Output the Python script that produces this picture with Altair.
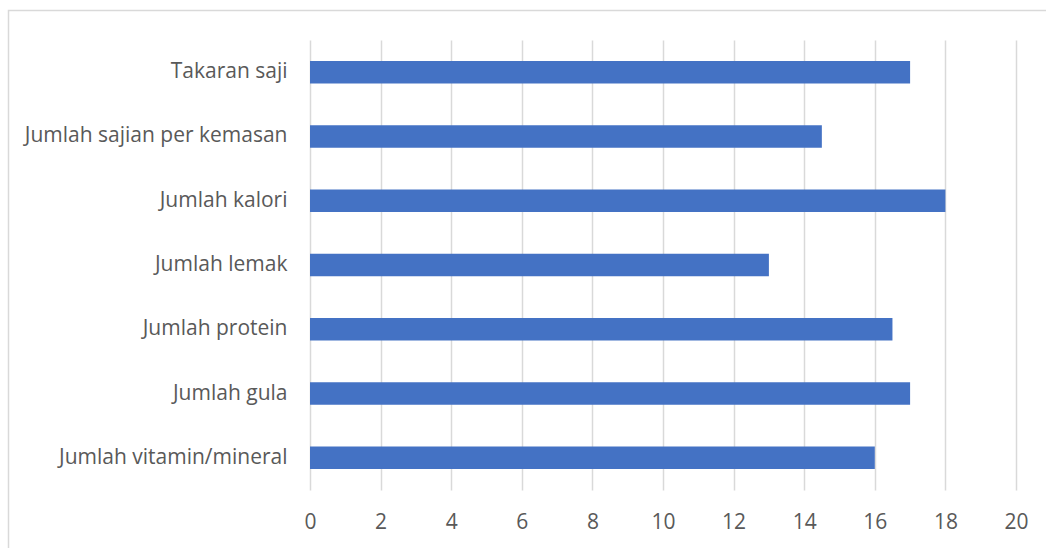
import altair as alt
import pandas as pd

categories = [
    "Takaran saji",
    "Jumlah sajian per kemasan",
    "Jumlah kalori",
    "Jumlah lemak",
    "Jumlah protein",
    "Jumlah gula",
    "Jumlah vitamin/mineral",
]
values = [17, 14.5, 18, 13, 16.5, 17, 16]
x_ticks = [0, 2, 4, 6, 8, 10, 12, 14, 16, 18, 20]

df = pd.DataFrame({"kategori": categories, "nilai": values})

FONT = "Open Sans"
GRAY = "#595959"

bars = alt.Chart(df).mark_bar(color="#4472C4").encode(
    x=alt.X(
        "nilai:Q",
        scale=alt.Scale(domain=[0, 20], nice=False),
        axis=alt.Axis(
            values=x_ticks,
            title=None,
            domain=False,
            ticks=False,
            grid=True,
            gridColor="#d9d9d9",
            gridWidth=1.5,
            labelFont=FONT,
            labelFontSize=21,
            labelColor=GRAY,
            labelPadding=21,
            labelFlush=False,
            labelOverlap=False,
        ),
    ),
    y=alt.Y(
        "kategori:N",
        sort=categories,
        scale=alt.Scale(paddingInner=0.65, paddingOuter=0.325),
        axis=alt.Axis(
            title=None,
            domain=False,
            ticks=False,
            grid=False,
            labelFont=FONT,
            labelFontSize=21,
            labelColor=GRAY,
            labelPadding=23,
            labelLimit=400,
        ),
    ),
)

border = alt.Chart(pd.DataFrame({"a": [0]})).mark_rect(
    fill=None, stroke="#d9d9d9", strokeWidth=1.5, clip=False
).encode(
    x=alt.value(-301.5),
    x2=alt.value(745),
    y=alt.value(-29.5),
    y2=alt.value(520),
)

chart = (
    alt.layer(border, bars)
    .properties(
        width=706,
        height=450,
        padding={"left": 310, "top": 40, "right": 30, "bottom": 58},
        autosize=alt.AutoSizeParams(type="none"),
        background="white",
    )
    .configure_view(stroke=None)
)

chart.save("out.html", embed_options={"renderer": "svg", "actions": False})
